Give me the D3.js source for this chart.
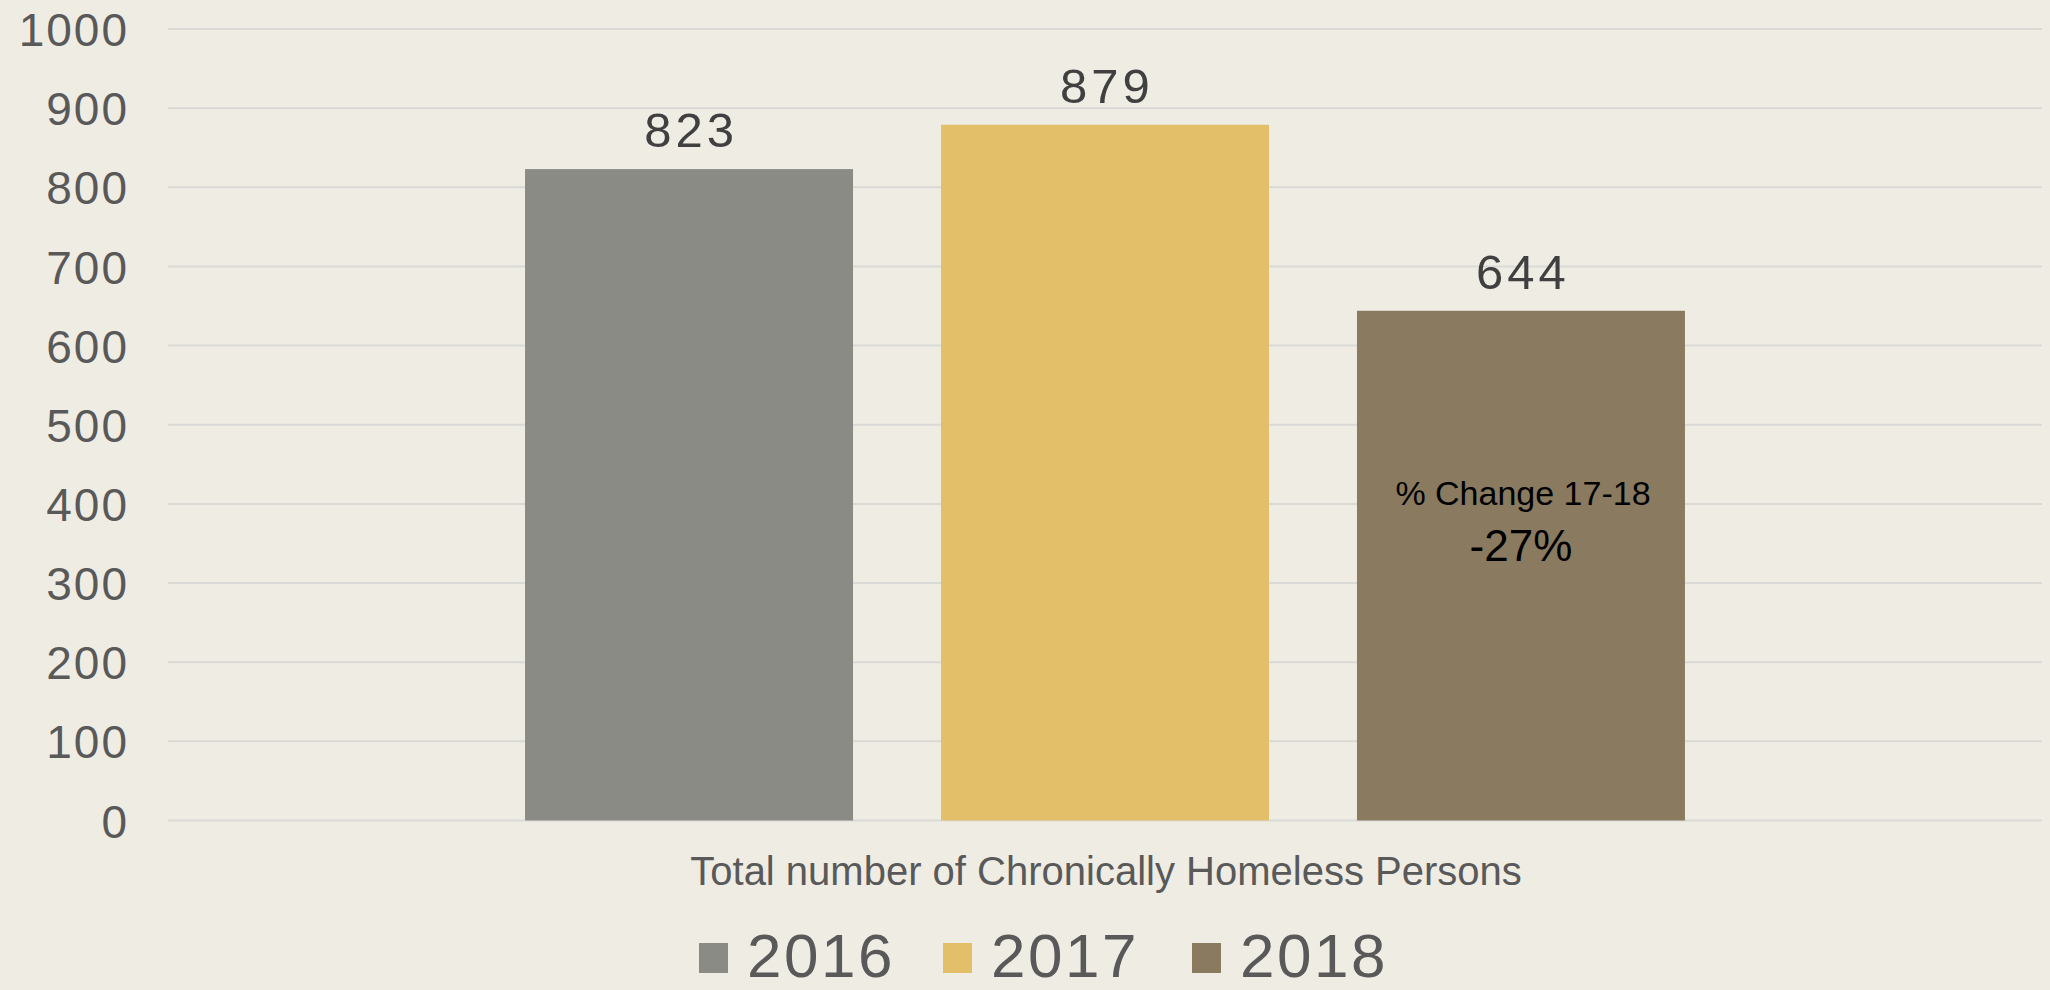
<!DOCTYPE html>
<html><head><meta charset="utf-8">
<script src="https://cdn.jsdelivr.net/npm/d3@7"></script>
<style>
html,body{margin:0;padding:0;background:#EFECE4;}
svg{display:block;}
</style></head>
<body>
<script>
const categories = ["Total number of Chronically Homeless Persons"];
const years = ["2016", "2017", "2018"];
const values = [823, 879, 644];
const colors = ["#8B8B85", "#E4BF6A", "#8A7B60"];
const yTicks = [0, 100, 200, 300, 400, 500, 600, 700, 800, 900, 1000];
const changeLabel = "% Change 17-18";
const changeValue = "-27%";

const W = 2050, H = 990;
const m = {left: 168, right: 8, top: 29, bottom: 169.5};
const svg = d3.select("body").append("svg").attr("width", W).attr("height", H);
svg.append("rect").attr("width", W).attr("height", H).attr("fill", "#EFECE4");

const y = d3.scaleLinear().domain([0, 1000]).range([H - m.bottom, m.top]);
const x0 = d3.scaleBand().domain(categories).range([m.left, W - m.right]).paddingInner(0).paddingOuter(0.3078);
const x1 = d3.scaleBand().domain(years).range([0, x0.bandwidth()]).paddingInner(0.2115).paddingOuter(0);

// gridlines
svg.append("g").selectAll("line").data(yTicks).join("line")
  .attr("x1", m.left).attr("x2", W - m.right)
  .attr("y1", d => y(d)).attr("y2", d => y(d))
  .attr("stroke", "#D9D9D6").attr("stroke-width", 2);

// y axis labels
const yAxis = d3.axisLeft(y).tickValues(yTicks).tickFormat(d3.format("d")).tickSize(0).tickPadding(41);
const gy = svg.append("g").attr("transform", `translate(${m.left},0)`).call(yAxis);
gy.select(".domain").remove();
gy.selectAll("text").attr("font-family", "Liberation Sans, Arial, sans-serif")
  .attr("font-size", 46).attr("letter-spacing", 2).attr("fill", "#595959").attr("dy", "0.36em")
  .attr("dx", 2);

// bars
const g = svg.append("g");
const bx = (i) => x0(categories[0]) + x1(years[i]);
g.selectAll("rect").data(values).join("rect")
  .attr("x", (d, i) => bx(i)).attr("width", x1.bandwidth())
  .attr("y", d => y(d)).attr("height", d => y(0) - y(d))
  .attr("fill", (d, i) => colors[i]);

// data labels
g.selectAll("text.val").data(values).join("text").attr("class", "val")
  .attr("x", (d, i) => bx(i) + x1.bandwidth() / 2 + 2)
  .attr("y", d => y(d) - 22)
  .attr("text-anchor", "middle")
  .attr("font-family", "Liberation Sans, Arial, sans-serif")
  .attr("font-size", 49).attr("letter-spacing", 4).attr("fill", "#404040")
  .text(d => d);

// change annotation inside 2018 bar
const cx = bx(2) + x1.bandwidth() / 2;
svg.append("text").attr("x", cx + 2).attr("y", 505).attr("text-anchor", "middle")
  .attr("font-family", "Liberation Sans, Arial, sans-serif")
  .attr("font-size", 34).attr("fill", "#000").text(changeLabel);
svg.append("text").attr("x", cx).attr("y", 561).attr("text-anchor", "middle")
  .attr("font-family", "Liberation Sans, Arial, sans-serif")
  .attr("font-size", 44).attr("fill", "#000").text(changeValue);

// category label
svg.append("text").attr("x", x0(categories[0]) + x0.bandwidth() / 2 + 1).attr("y", 885)
  .attr("text-anchor", "middle")
  .attr("font-family", "Liberation Sans, Arial, sans-serif")
  .attr("font-size", 40).attr("fill", "#595959").text(categories[0]);

// legend
const legX = [699, 943, 1192];
const lg = svg.append("g").selectAll("g").data(years).join("g")
  .attr("transform", (d, i) => `translate(${legX[i]},0)`);
lg.append("rect").attr("x", 0).attr("y", 943).attr("width", 29).attr("height", 30)
  .attr("fill", (d, i) => colors[i]);
lg.append("text").attr("x", 48).attr("y", 977)
  .attr("font-family", "Liberation Sans, Arial, sans-serif")
  .attr("font-size", 62).attr("letter-spacing", 2.5).attr("fill", "#595959").text(d => d);
</script>
</body></html>
